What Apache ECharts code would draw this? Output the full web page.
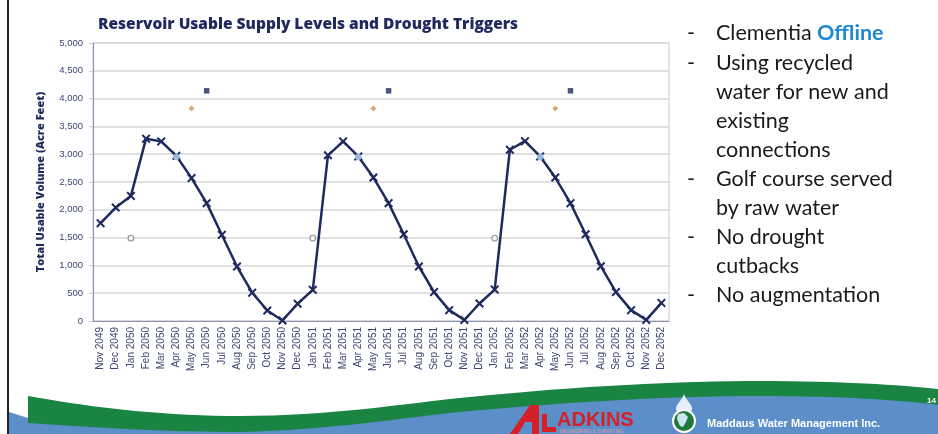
<!DOCTYPE html>
<html>
<head>
<meta charset="utf-8">
<script src="https://cdn.jsdelivr.net/npm/echarts@6/dist/echarts.min.js"></script>
<style>
html,body{margin:0;padding:0;background:#fff;}
#chart{width:938px;height:434px;}
</style>
</head>
<body>
<div id="chart"></div>
<script>
// ---- data ----
const months = ['Nov 2049','Dec 2049','Jan 2050','Feb 2050','Mar 2050','Apr 2050','May 2050','Jun 2050','Jul 2050','Aug 2050','Sep 2050','Oct 2050','Nov 2050','Dec 2050',
  'Jan 2051','Feb 2051','Mar 2051','Apr 2051','May 2051','Jun 2051','Jul 2051','Aug 2051','Sep 2051','Oct 2051','Nov 2051','Dec 2051',
  'Jan 2052','Feb 2052','Mar 2052','Apr 2052','May 2052','Jun 2052','Jul 2052','Aug 2052','Sep 2052','Oct 2052','Nov 2052','Dec 2052'];
const usableSupply = [1760,2040,2250,3280,3230,2970,2570,2120,1550,980,510,190,10,310,
  560,2980,3230,2960,2580,2120,1560,980,520,195,20,315,
  565,3080,3235,2960,2580,2120,1560,985,520,195,20,325];
const triggerGray   = [['Jan 2050',1490],['Jan 2051',1490],['Jan 2052',1490]];
const triggerBlue   = [['Apr 2050',2950],['Apr 2051',2950],['Apr 2052',2950]];
const triggerOrange = [['May 2050',3820],['May 2051',3820],['May 2052',3820]];
const triggerNavy   = [['Jun 2050',4140],['Jun 2051',4140],['Jun 2052',4140]];
const yTicks = {min:0, max:5000, interval:500};
const titleText = 'Reservoir Usable Supply Levels and Drought Triggers';
const yAxisTitle = 'Total Usable Volume (Acre Feet)';
const bullets = [
  {dash:true,  parts:[['Clementia ', 'n'], ['Offline', 'o']]},
  {dash:true,  parts:[['Using recycled','n']]},
  {dash:false, parts:[['water for new and','n']]},
  {dash:false, parts:[['existing','n']]},
  {dash:false, parts:[['connections','n']]},
  {dash:true,  parts:[['Golf course served','n']]},
  {dash:false, parts:[['by raw water','n']]},
  {dash:true,  parts:[['No drought','n']]},
  {dash:false, parts:[['cutbacks','n']]},
  {dash:true,  parts:[['No augmentation','n']]}
];

const NAVY = '#1f2a5e';
const xPath = 'path://M0,1.6L1.6,0L5,3.4L8.4,0L10,1.6L6.6,5L10,8.4L8.4,10L5,6.6L1.6,10L0,8.4L3.4,5Z';

// sample a chain of cubic bezier segments into polygon points (decoration shapes)
function bez(start, segs, extra) {
  const pts = [start];
  let p0 = start;
  segs.forEach(s => {
    const [c1, c2, p3] = s;
    for (let k = 1; k <= 16; k++) {
      const t = k / 16, u = 1 - t;
      pts.push([
        u*u*u*p0[0] + 3*u*u*t*c1[0] + 3*u*t*t*c2[0] + t*t*t*p3[0],
        u*u*u*p0[1] + 3*u*u*t*c1[1] + 3*u*t*t*c2[1] + t*t*t*p3[1]
      ]);
    }
    p0 = p3;
  });
  return pts.concat(extra || []);
}

const chart = echarts.init(document.getElementById('chart'), null, {renderer:'canvas'});

const graphics = [];
graphics.push({type:'rect', shape:{x:7, y:0, width:2, height:434}, style:{fill:'#222'}, z:10});
// footer blue
const bluePts = [[9,412]].concat(bez([28,418], [
  [[110,428],[180,430],[240,429]],
  [[330,427],[400,414],[470,405]],
  [[600,392],[700,389],[760,390]],
  [[840,391],[900,396],[938,400]]
], [[938,434],[9,434]]));
graphics.push({type:'polygon', shape:{points:bluePts}, style:{fill:'#5c8fca'}, z:1});
// footer green
const greenTop = bez([28,396], [
  [[100,409],[170,416],[240,416]],
  [[330,416],[400,404],[470,397]],
  [[580,386],[680,381],[760,381]],
  [[840,381],[900,385],[938,389]]
]);
const greenBot = bez([938,405], [
  [[900,400],[840,396],[760,396]],
  [[680,396],[580,401],[470,411]],
  [[400,418],[330,430],[240,432]],
  [[170,432],[100,428],[28,423]]
]);
graphics.push({type:'polygon', shape:{points:greenTop.concat(greenBot)}, style:{fill:'#1a8443'}, z:2});
// ADKINS logo
graphics.push({type:'polygon', shape:{points:[[510,434],[530,405],[539,405],[539,434],[532,434],[532,422],[525,422],[518,434]]}, style:{fill:'#d42027'}, z:3});
graphics.push({type:'polygon', shape:{points:[[542,414],[547,414],[547,427],[556,427],[556,432],[542,432]]}, style:{fill:'#d42027'}, z:3});
graphics.push({type:'text', style:{x:557, y:420, text:'ADKINS', fill:'#d42027', font:'bold 20px "Liberation Sans", Arial', textVerticalAlign:'middle'}, z:3});
graphics.push({type:'text', style:{x:560, y:432, text:'ENGINEERING & SURVEYING', fill:'#e8a0a0', font:'4.5px "Liberation Sans", Arial', textVerticalAlign:'middle'}, z:3});
// Maddaus logo
graphics.push({type:'polygon', shape:{points:bez([684,394], [
  [[686,400],[692,404],[692,409]],
  [[692,412],[688,414],[684,414]],
  [[680,414],[676,412],[676,409]],
  [[676,404],[682,400],[684,394]]
])}, style:{fill:'#e6eef8'}, z:3});
graphics.push({type:'circle', shape:{cx:684, cy:421, r:12}, style:{fill:'#ffffff'}, z:3});
graphics.push({type:'circle', shape:{cx:684, cy:421, r:10}, style:{fill:'#1f7a3a'}, z:3});
graphics.push({type:'polygon', shape:{points:[[678,414],[684,413],[688,417],[686,422],[683,427],[680,426],[677,419]]}, style:{fill:'#cfe3f3'}, z:4});
graphics.push({type:'text', style:{x:707, y:424, text:'Maddaus Water Management Inc.', fill:'#ffffff', font:'bold 11px "Liberation Sans Narrow", "Liberation Sans", Arial', textVerticalAlign:'middle'}, z:3});
graphics.push({type:'text', style:{x:927, y:401, text:'14', fill:'#ffffff', font:'bold 8px "Liberation Sans", Arial', textVerticalAlign:'middle'}, z:3});
// bullets
bullets.forEach((b, i) => {
  const y = 33.5 + i * 29.1;
  if (b.dash) graphics.push({type:'text', style:{x:687, y:y, text:'-', fill:'#1a1a1a', font:'21.5px Lato, "Open Sans", sans-serif', textVerticalAlign:'middle'}, z:5});
  graphics.push({type:'text', style:{x:716, y:y, textVerticalAlign:'middle',
    text: b.parts.map(p => '{' + p[1] + '|' + p[0] + '}').join(''),
    rich:{
      n:{fontFamily:'Lato, "Open Sans", sans-serif', fontSize:21.5, fill:'#1a1a1a'},
      o:{fontFamily:'Lato, "Open Sans", sans-serif', fontSize:21.5, fontWeight:'bold', fill:'#1f8ad0'}
    }}, z:5});
});

const option = {
  backgroundColor:'#ffffff',
  animation:false,
  title:{text:titleText, left:93, top:12, textStyle:{fontFamily:'"Open Sans", sans-serif', fontWeight:800, fontSize:15.5, color:NAVY}},
  grid:{left:93, right:269, top:43, bottom:113, show:true, borderColor:'#c9cbd8', borderWidth:1},
  xAxis:{
    type:'category', data:months, boundaryGap:true,
    axisLine:{lineStyle:{color:'#8e93ad', width:1}},
    axisTick:{alignWithLabel:true, length:4, lineStyle:{color:'#8e93ad'}},
    axisLabel:{rotate:90, interval:0, fontSize:10, color:'#3d4472', fontFamily:'"Liberation Sans", Arial', margin:6}
  },
  yAxis:{
    type:'value', min:yTicks.min, max:yTicks.max, interval:yTicks.interval,
    name:yAxisTitle, nameLocation:'middle', nameGap:47, nameRotate:90,
    nameTextStyle:{fontFamily:'"Open Sans", sans-serif', fontWeight:800, fontSize:11, color:NAVY},
    axisLine:{show:true, lineStyle:{color:'#8e93ad', width:1}},
    axisTick:{show:true, length:4, lineStyle:{color:'#c9cbd8'}},
    splitLine:{lineStyle:{color:'#d6d6d6', width:1.5}},
    axisLabel:{fontSize:9.5, color:'#3d4472', fontFamily:'"Liberation Sans", Arial', margin:10,
      formatter: v => v.toLocaleString('en-US')}
  },
  series:[
    {type:'line', data:usableSupply, symbol:xPath, symbolSize:9, showAllSymbol:true,
     lineStyle:{color:NAVY, width:2.5}, itemStyle:{color:NAVY}, z:3},
    {type:'scatter', data:triggerGray, symbol:'circle', symbolSize:5.5,
     itemStyle:{color:'#ffffff', borderColor:'#8a8a8a', borderWidth:1.3}, z:4},
    {type:'scatter', data:triggerBlue, symbol:'circle', symbolSize:6,
     itemStyle:{color:'#bcd8f0', borderColor:'#7fa9d8', borderWidth:1}, z:4},
    {type:'scatter', data:triggerOrange, symbol:'diamond', symbolSize:6,
     itemStyle:{color:'#c9955b'}, z:4},
    {type:'scatter', data:triggerNavy, symbol:'rect', symbolSize:5.5,
     itemStyle:{color:NAVY}, z:4}
  ],
  graphic:{elements:graphics}
};
chart.setOption(option);
</script>
</body>
</html>
